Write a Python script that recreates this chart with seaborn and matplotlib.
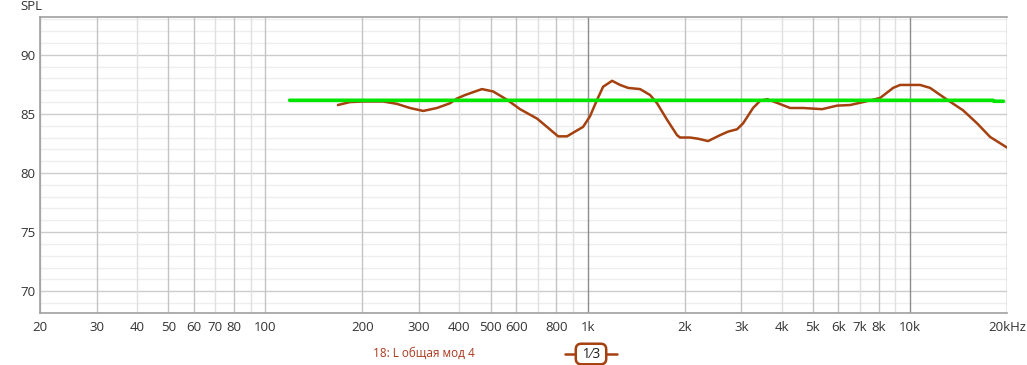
import numpy as np
import pandas as pd
import matplotlib.pyplot as plt
from matplotlib.lines import Line2D
import seaborn as sns

freq = [168, 183, 201, 232, 256, 281, 309, 341, 374, 393, 417, 470, 509, 562,
        617, 697, 748, 810, 863, 927, 968, 1017, 1070, 1117, 1191, 1261, 1335,
        1454, 1562, 1642, 1764, 1894, 1935, 2078, 2200, 2364, 2576, 2727, 2908,
        3036, 3260, 3427, 3604, 3898, 4246, 4660, 5338, 5942, 6522, 7154, 8082,
        8866, 9320, 10750, 11546, 13040, 14616, 16154, 17726, 20000]
spl = [85.75, 86.0, 86.05, 86.05, 85.85, 85.5, 85.25, 85.5, 85.9, 86.3, 86.6,
       87.1, 86.9, 86.2, 85.4, 84.6, 83.9, 83.1, 83.1, 83.6, 83.9, 84.8, 86.2,
       87.3, 87.8, 87.45, 87.2, 87.1, 86.6, 85.9, 84.5, 83.2, 83.0, 83.0, 82.9,
       82.7, 83.2, 83.5, 83.7, 84.2, 85.5, 86.1, 86.25, 85.9, 85.5, 85.5, 85.4,
       85.7, 85.75, 86.0, 86.35, 87.2, 87.45, 87.45, 87.2, 86.2, 85.3, 84.2,
       83.05, 82.15]

# Target line
target_freq = [119, 18100, 18200, 19500]
target_spl = [86.15, 86.15, 86.07, 86.07]

xticks = [20, 30, 40, 50, 60, 70, 80, 100, 200, 300, 400, 500, 600, 800,
          1000, 2000, 3000, 4000, 5000, 6000, 7000, 8000, 10000, 20000]
xlabels = ["20", "30", "40", "50", "60", "70", "80", "100", "200", "300", "400",
           "500", "600", "800", "1k", "2k", "3k", "4k", "5k", "6k", "7k", "8k",
           "10k", "20kHz"]
yticks = [70, 75, 80, 85, 90]

sns.set_style("white")
plt.rcParams['font.family'] = ['Open Sans', 'DejaVu Sans']

fig = plt.figure(figsize=(10.27, 3.65), dpi=100)
ax = fig.add_axes([40 / 1027, 1 - 313 / 365, 967 / 1027, 296 / 365])
ax.set_xscale("log")
ax.set_xlim(20, 20000)
ax.set_ylim(68.15, 93.2)

# grid
for db in range(69, 94):
    if db % 5 == 0:
        ax.axhline(db, color="#cccccc", lw=1, zorder=0)
    else:
        ax.axhline(db, color="#eeeeee", lw=1, zorder=0)
for dec in [10, 100, 1000, 10000]:
    for m in range(1, 10):
        f = dec * m
        if f < 20 or f > 20000:
            continue
        if f in (1000, 10000):
            c = "#8c8c8c"
        elif m in (4, 7, 9):
            c = "#e0e0e0"
        else:
            c = "#c4c4c4"
        ax.axvline(f, color=c, lw=1, zorder=0)
ax.axvline(20000, color="#c4c4c4", lw=1, zorder=0)

df = pd.DataFrame({"freq": freq, "spl": spl})
tgt = pd.DataFrame({"freq": target_freq, "spl": target_spl})
sns.lineplot(data=tgt, x="freq", y="spl", color="#00e600", lw=2.6, ax=ax,
             estimator=None, sort=False, zorder=3)
sns.lineplot(data=df, x="freq", y="spl", color="#a5400f", lw=1.8, ax=ax,
             estimator=None, sort=False, zorder=2,
             solid_joinstyle="round", solid_capstyle="round")

ax.set_xticks(xticks)
ax.set_xticklabels(xlabels)
ax.xaxis.set_minor_locator(plt.NullLocator())
ax.set_yticks(yticks)
ax.tick_params(axis="both", length=0, labelsize=9.5, colors="#333333")
ax.tick_params(axis="x", pad=6)
ax.tick_params(axis="y", pad=3)
ax.set_xlabel("")
ax.set_ylabel("")

for side in ["left", "bottom", "top"]:
    ax.spines[side].set_color("#a0a0a0")
    ax.spines[side].set_linewidth(1.2)
ax.spines["right"].set_visible(False)

fig.text(20 / 1027, 1 - 7 / 365, "SPL", fontsize=9.5, color="#333333", va="center")

# legend area
fig.text(373 / 1027, 1 - 353 / 365, "18: L общая мод 4", fontsize=8.5,
         color="#a83a1e", va="center")
fig.add_artist(Line2D([565 / 1027, 617 / 1027], [1 - 354 / 365, 1 - 354 / 365],
                      color="#a5400f", lw=1.8))
fig.text(591 / 1027, 1 - 354 / 365, " 1⁄3 ", fontsize=10, color="#222222",
         ha="center", va="center",
         bbox=dict(boxstyle="round,pad=0.2,rounding_size=0.4", fc="white",
                   ec="#a5400f", lw=1.8))

fig.savefig("out.png", dpi=100)
